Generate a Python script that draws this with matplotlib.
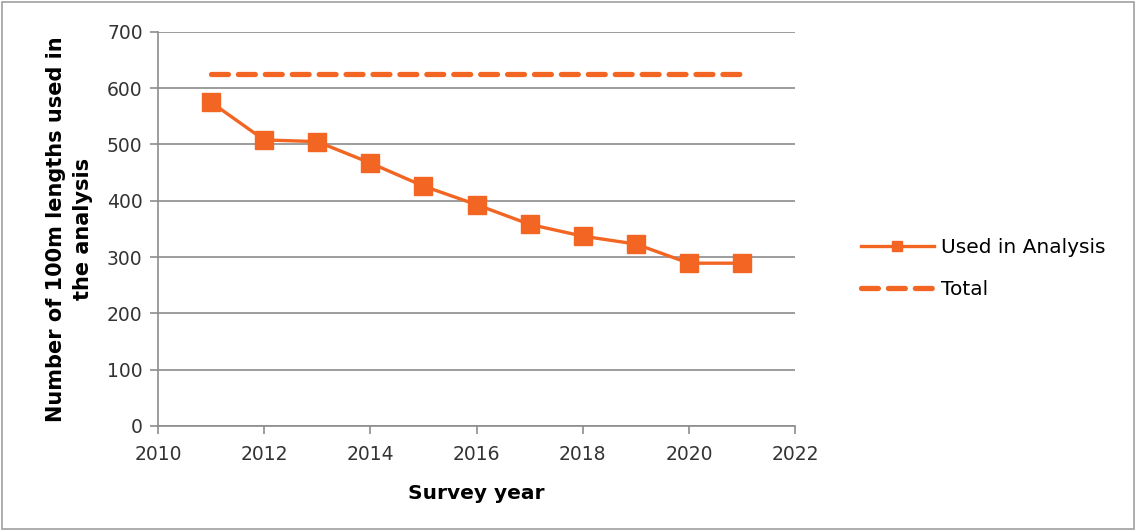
import matplotlib
matplotlib.use("Agg")
import matplotlib.pyplot as plt
from matplotlib.patches import Rectangle

years = [2011, 2012, 2013, 2014, 2015, 2016, 2017, 2018, 2019, 2020, 2021]
used = [575, 508, 505, 467, 426, 393, 358, 337, 323, 289, 289]
total = [625] * len(years)

orange = "#F26522"
grid_col = "#8c8c8c"
text_col = "#333333"

plt.rcParams["font.family"] = ["DejaVu Sans"]

fig = plt.figure(figsize=(11.36, 5.31), dpi=100)
ax = fig.add_axes([0.139, 0.198, 0.561, 0.742])

ax.plot(years, used, color=orange, lw=2.4, marker="s", markersize=12.5,
        label="Used in Analysis")
ax.plot(years, total, color=orange, lw=3.8, ls=(0, (3.2, 1.9)),
        dash_capstyle="round", label="Total")

ax.set_xlim(2010, 2022)
ax.set_ylim(0, 700)
ax.set_xticks(range(2010, 2023, 2))
ax.set_yticks(range(0, 701, 100))
ax.yaxis.grid(True, color=grid_col, lw=1.2)
ax.set_axisbelow(True)

for s in ["top", "right"]:
    ax.spines[s].set_visible(False)
for s in ["left", "bottom"]:
    ax.spines[s].set_color(grid_col)
    ax.spines[s].set_linewidth(1.2)

ax.tick_params(axis="both", colors=grid_col, length=6, width=1.2,
               labelsize=13.5, labelcolor=text_col)
ax.tick_params(axis="x", pad=8)
ax.tick_params(axis="y", pad=5)

ax.set_xlabel("Survey year", fontsize=14.5, fontweight="bold", labelpad=14)
ax.set_ylabel("Number of 100m lengths used in\nthe analysis", fontsize=15,
              fontweight="bold", labelpad=10, linespacing=1.45)

ax.legend(loc="center left", bbox_to_anchor=(1.075, 0.40), frameon=False,
          fontsize=14.5, handlelength=3.6, labelspacing=1.15,
          handletextpad=0.35, markerscale=0.6)

# thin grey frame around the whole figure
fig.patches.append(Rectangle((0.002, 0.003), 0.996, 0.993,
                             transform=fig.transFigure, fill=False,
                             edgecolor="#a0a0a0", lw=1.2))

fig.savefig("out.png", dpi=100)
